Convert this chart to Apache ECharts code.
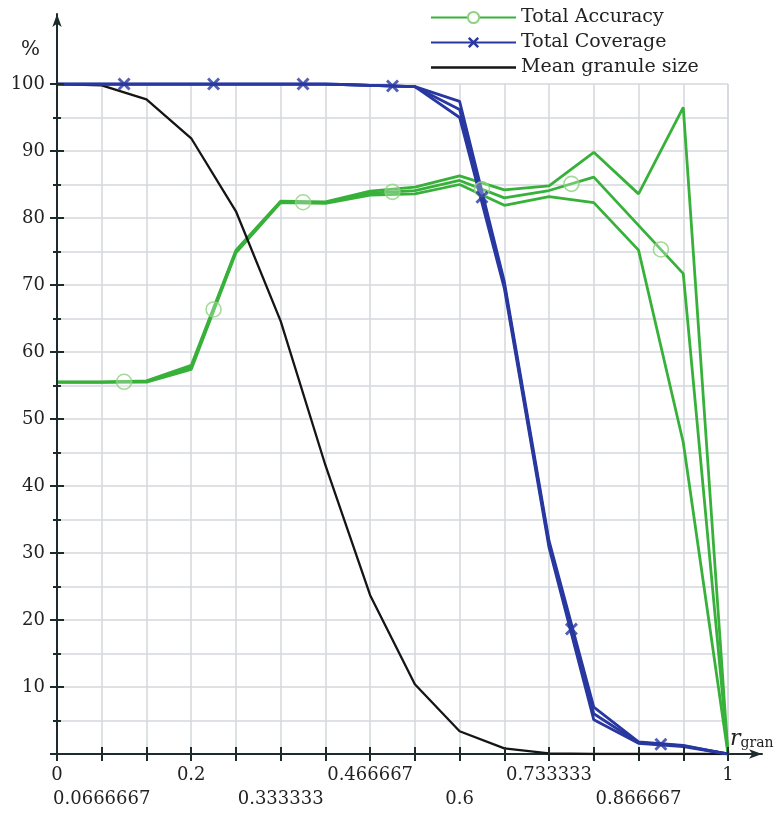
<!DOCTYPE html>
<html><head><meta charset="utf-8">
<script src="https://cdn.jsdelivr.net/npm/echarts@6/dist/echarts.min.js"></script>
<style>html,body{margin:0;padding:0;background:#fff}#c{width:774px;height:814px}</style>
</head><body><div id="c"></div>
<script>
// r_gran values (x)
const rGran = [0, 0.0666667, 0.133333, 0.2, 0.266667, 0.333333, 0.4, 0.466667, 0.533333, 0.6, 0.666667, 0.733333, 0.8, 0.866667, 0.933333, 1];
// Total Accuracy (three runs)
const accuracyA = [55.5, 55.5, 55.7, 58.0, 75.2, 82.5, 82.4, 84.0, 84.6, 86.3, 84.2, 84.8, 89.8, 83.6, 96.5, 0];
const accuracyB = [55.5, 55.5, 55.6, 57.7, 75.0, 82.4, 82.3, 83.7, 84.1, 85.6, 83.0, 84.1, 86.1, 78.9, 71.7, 0];
const accuracyC = [55.5, 55.5, 55.5, 57.4, 74.8, 82.3, 82.2, 83.4, 83.6, 85.0, 81.9, 83.2, 82.3, 75.2, 46.5, 0];
// Total Coverage (three runs)
const coverageA = [100, 100, 100, 100, 100, 100, 100, 99.8, 99.6, 97.4, 70.5, 31.8, 7.0, 1.8, 1.3, 0];
const coverageB = [100, 100, 100, 100, 100, 100, 100, 99.8, 99.6, 96.2, 70.0, 31.3, 6.0, 1.7, 1.2, 0];
const coverageC = [100, 100, 100, 100, 100, 100, 100, 99.8, 99.6, 95.0, 69.5, 30.8, 5.1, 1.6, 1.1, 0];
// Mean granule size
const granuleSize = [100, 99.8, 97.7, 91.9, 81.0, 64.6, 43.1, 23.7, 10.4, 3.4, 0.85, 0.1, 0, 0, 0, 0];
// y tick labels
const yTicks = [10, 20, 30, 40, 50, 60, 70, 80, 90, 100];

const FONT = 'DejaVu Serif';
const GREEN = '#38b13a', GREEN_LIGHT = '#8fd27e', BLUE = '#2838a0', BLACK = '#151515';
const AXIS = '#1c2b2b', GRID = '#d4d7dd';
const CROSS = 'path://M0,1.6L1.6,0L5,3.4L8.4,0L10,1.6L6.6,5L10,8.4L8.4,10L5,6.6L1.6,10L0,8.4L3.4,5Z';

function pairs(vals){ return rGran.map((x,i)=>[x, vals[i]]); }
function mids(vals){ const out=[]; for(let k=1;k<rGran.length-1;k+=2){ out.push([(rGran[k]+rGran[k+1])/2,(vals[k]+vals[k+1])/2]); } return out; }
function line(name, vals, color, width, symbol, z){
  return {type:'line', name, data:pairs(vals), symbol, showSymbol:false, symbolSize:10,
    lineStyle:{color, width}, itemStyle:{color}, emphasis:{disabled:true}, z, silent:true};
}

const series = [
  line('Total Accuracy', accuracyA, GREEN, 2.8, 'emptyCircle', 2),
  line('Total Accuracy', accuracyB, GREEN, 2.8, 'emptyCircle', 2),
  line('Total Accuracy', accuracyC, GREEN, 2.8, 'emptyCircle', 2),
  line('Mean granule size', granuleSize, BLACK, 2.3, 'none', 3),
  line('Total Coverage', coverageA, BLUE, 2.8, CROSS, 4),
  line('Total Coverage', coverageB, BLUE, 2.8, CROSS, 4),
  line('Total Coverage', coverageC, BLUE, 2.8, CROSS, 4),
  {type:'scatter', name:'Total Accuracy', data:mids(accuracyB), symbol:'circle', symbolSize:15,
    itemStyle:{color:'rgba(255,255,255,0.35)', borderColor:GREEN_LIGHT, borderWidth:1.6}, z:5, silent:true},
  {type:'scatter', name:'Total Coverage', data:mids(coverageB), symbol:CROSS, symbolSize:13,
    itemStyle:{color:BLUE}, z:6, silent:true}
];

function fmt(v){ return String(parseFloat(v.toPrecision(6))); }
// first row: 0 and steps 3,7,11,15; second row: steps 1,5,9,13
function xLabelRow1(v){ const k = Math.round(v*15); return (k === 0 || (k % 2 === 1 && ((k-1)/2) % 2 === 1)) ? fmt(v) : ''; }
function xLabelRow2(v){ const k = Math.round(v*15); return (k % 2 === 1 && ((k-1)/2) % 2 === 0) ? fmt(v) : ''; }

const baseX = {type:'value', min:0, max:1, interval:1/15, position:'bottom'};
const baseY = {type:'value', min:0, max:100, interval:10, position:'left'};
const lblStyle = {fontFamily:FONT, fontSize:18, color:'#222', hideOverlap:false, showMinLabel:true, showMaxLabel:true};

const option = {
  animation:false,
  backgroundColor:'#fff',
  grid:[
    {left:57, right:46, top:84, bottom:60, containLabel:false, outerBoundsMode:'none'},
    {left:57, right:12, top:14, bottom:60, containLabel:false, outerBoundsMode:'none'}
  ],
  legend:{
    orient:'vertical', left:425, top:3, itemWidth:85, itemHeight:14, itemGap:6,
    selectedMode:false,
    textStyle:{fontFamily:FONT, fontSize:19, color:'#222'},
    data:[
      {name:'Total Accuracy', itemStyle:{color:GREEN_LIGHT}},
      {name:'Total Coverage'},
      {name:'Mean granule size', icon:'path://M0,0H100V3H0Z'}
    ]
  },
  xAxis:[
    Object.assign({}, baseX, {gridIndex:0,
      axisLine:{show:true, lineStyle:{color:AXIS, width:2}},
      axisTick:{show:true, length:7, lineStyle:{color:AXIS, width:2}},
      axisLabel:Object.assign({formatter:xLabelRow1, margin:12}, lblStyle),
      splitLine:{show:true, lineStyle:{color:GRID, width:1.5}},
      name:'{r|r}{g|gran}', nameLocation:'end', nameGap:2,
      nameTextStyle:{align:'left', verticalAlign:'bottom', padding:[0,0,4,0],
        rich:{r:{fontFamily:FONT, fontStyle:'italic', fontSize:22, color:'#222', verticalAlign:'bottom'},
              g:{fontFamily:FONT, fontSize:14, color:'#222', verticalAlign:'bottom'}}}
    }),
    Object.assign({}, baseX, {gridIndex:0, z:10,
      axisLine:{show:false}, axisTick:{show:true, inside:true, length:7, lineStyle:{color:AXIS, width:2}},
      axisLabel:Object.assign({formatter:xLabelRow2, margin:36}, lblStyle), splitLine:{show:false}}),
    {type:'value', gridIndex:1, min:0, max:1, position:'bottom',
      axisLine:{show:true, symbol:['none','arrow'], symbolSize:[7,13], lineStyle:{color:AXIS, width:2}},
      axisTick:{show:false}, axisLabel:{show:false}, splitLine:{show:false}}
  ],
  yAxis:[
    Object.assign({}, baseY, {gridIndex:0,
      axisLine:{show:true, lineStyle:{color:AXIS, width:2}},
      axisTick:{show:true, length:7, lineStyle:{color:AXIS, width:2}},
      minorTick:{show:true, splitNumber:2, length:4, lineStyle:{color:AXIS, width:2}},
      axisLabel:Object.assign({formatter:(v)=> yTicks.indexOf(v) >= 0 ? String(v) : '', margin:12}, lblStyle),
      splitLine:{show:true, lineStyle:{color:GRID, width:1.5}},
      minorSplitLine:{show:true, lineStyle:{color:GRID, width:1.5}},
      name:'%', nameLocation:'end', nameGap:24,
      nameTextStyle:{fontFamily:FONT, fontSize:20, color:'#222', align:'right', padding:[0,17,0,0]}
    }),
    Object.assign({}, baseY, {gridIndex:0, z:10,
      axisLine:{show:true, lineStyle:{color:AXIS, width:2}},
      axisTick:{show:true, inside:true, length:7, lineStyle:{color:AXIS, width:2}},
      minorTick:{show:true, splitNumber:2, length:4, lineStyle:{color:AXIS, width:2}},
      axisLabel:Object.assign({formatter:()=>' ', margin:12}, lblStyle), splitLine:{show:false}}),
    {type:'value', gridIndex:1, min:0, max:1, position:'left',
      axisLine:{show:true, symbol:['none','arrow'], symbolSize:[7,13], lineStyle:{color:AXIS, width:2}},
      axisTick:{show:false}, axisLabel:{show:false}, splitLine:{show:false}}
  ],
  series: series.map(s => Object.assign(s, {xAxisIndex:0, yAxisIndex:0}))
};

const chart = echarts.init(document.getElementById('c'), null, {renderer:'canvas'});
chart.setOption(option);
</script>
</body></html>
